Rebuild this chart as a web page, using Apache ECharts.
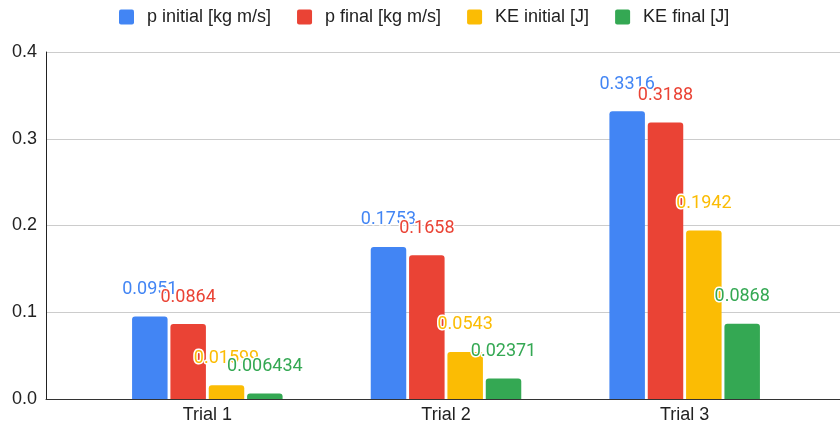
<!DOCTYPE html>
<html>
<head>
<meta charset="utf-8">
<script src="https://cdn.jsdelivr.net/npm/echarts@6/dist/echarts.min.js"></script>
<style>html,body{margin:0;padding:0;background:#fff}#c{width:840px;height:426px}</style>
</head>
<body>
<div id="c"></div>
<script>
var categories = ['Trial 1', 'Trial 2', 'Trial 3'];
var seriesNames = ['p initial [kg m/s]', 'p final [kg m/s]', 'KE initial [J]', 'KE final [J]'];
var pInitial = [0.0951, 0.1753, 0.3316];
var pFinal = [0.0864, 0.1658, 0.3188];
var keInitial = [0.01599, 0.0543, 0.1942];
var keFinal = [0.006434, 0.02371, 0.0868];
var colors = ['#4285F4', '#EA4335', '#FBBC04', '#34A853'];
var yTicks = [0, 0.1, 0.2, 0.3, 0.4];

var chart = echarts.init(document.getElementById('c'), null, {renderer: 'canvas'});
var allData = [pInitial, pFinal, keInitial, keFinal];
var series = allData.map(function (d, i) {
  return {
    name: seriesNames[i],
    type: 'bar',
    xAxisIndex: 1,
    yAxisIndex: 1,
    data: d,
    barWidth: 35.5,
    barGap: '8%',
    itemStyle: {color: colors[i], borderRadius: [3, 3, 0, 0]},
    label: {
      show: true,
      position: 'top',
      distance: 18,
      color: colors[i],
      fontFamily: 'Roboto',
      fontSize: 18,
      textBorderColor: '#fff',
      textBorderWidth: 3,
      formatter: function (p) { return String(p.value); }
    }
  };
});

chart.setOption({
  animation: false,
  color: colors,
  legend: {
    top: 8,
    left: 119,
    padding: 0,
    icon: 'path://M2,0 H13 A2,2 0 0 1 15,2 V13 A2,2 0 0 1 13,15 H2 A2,2 0 0 1 0,13 V2 A2,2 0 0 1 2,0 Z',
    itemWidth: 15,
    itemHeight: 15,
    itemGap: 26,
    textStyle: {fontFamily: 'Liberation Sans', fontSize: 18, color: '#222', padding: [0, 0, 0, 8]},
    data: seriesNames
  },
  grid: [
    {left: 46, right: 0, top: 52, bottom: 27},
    {left: 88, right: 36, top: 52, bottom: 27}
  ],
  xAxis: [
    {gridIndex: 0, type: 'value', min: 0, max: 1,
      axisLine: {show: true, onZero: false, lineStyle: {color: '#333', width: 1}},
      axisTick: {show: false}, axisLabel: {show: false}, splitLine: {show: false}},
    {gridIndex: 1, type: 'category', data: categories,
      axisLine: {show: false}, axisTick: {show: false},
      axisLabel: {fontFamily: 'Liberation Sans', fontSize: 18, color: '#222', margin: 7}}
  ],
  yAxis: [
    {gridIndex: 0, type: 'value', min: yTicks[0], max: yTicks[yTicks.length - 1], interval: 0.1,
      axisLine: {show: true, lineStyle: {color: '#222', width: 1}},
      axisTick: {show: false},
      axisLabel: {fontFamily: 'Liberation Sans', fontSize: 18, color: '#222', margin: 9,
        formatter: function (v) { return v.toFixed(1); }},
      splitLine: {lineStyle: {color: '#cccccc', width: 1}}},
    {gridIndex: 1, type: 'value', min: 0, max: 0.4, interval: 0.1, show: false}
  ],
  series: series
});
</script>
</body>
</html>
